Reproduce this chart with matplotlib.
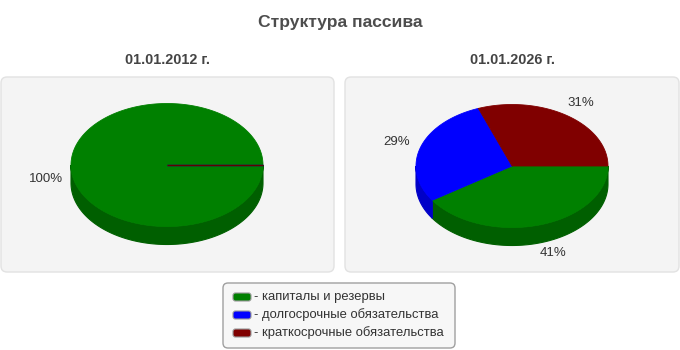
import numpy as np
import matplotlib
matplotlib.use("Agg")
import matplotlib.pyplot as plt
from matplotlib.patches import Polygon, FancyBboxPatch

# ---- data ----
title = "Структура пассива"
dates = ["01.01.2012 г.", "01.01.2026 г."]
categories = ["капиталы и резервы", "долгосрочные обязательства", "краткосрочные обязательства"]
values_2012 = [100, 0, 0]
values_2026 = [41, 29, 31]
top_colors = ["#008000", "#0000ff", "#800000"]
side_colors = ["#005f00", "#0000c8", "#600000"]

plt.rcParams['font.family'] = ['Liberation Sans', 'DejaVu Sans']

fig = plt.figure(figsize=(6.8, 3.5), dpi=100)
ax = fig.add_axes([0, 0, 1, 1])
ax.set_xlim(0, 680)
ax.set_ylim(350, 0)
ax.axis('off')

fig.text(0.5, 1 - 22 / 350, title, ha='center', va='center', fontsize=12.6,
         fontweight='bold', color='#4d4d4d')

panels = [(1, 77, 333, 195), (345, 77, 334, 195)]
centers = [(167, 165), (512, 166)]
rx, ry, depth = 96, 61.5, 18


def ell(cx, cy, t, dy=0):
    return np.column_stack([cx + rx * np.cos(t), cy + ry * np.sin(t) + dy])


for (px, py, pw, ph), (cx, cy), date, vals in zip(panels, centers, dates,
                                                 [values_2012, values_2026]):
    ax.add_patch(FancyBboxPatch((px + 3, py + 3), pw - 6, ph - 6,
                                boxstyle="round,pad=3,rounding_size=6",
                                fc="#f4f4f4", ec="#e2e2e2", lw=1))
    ax.text(cx + 0.5, 60, date, ha='center', va='center', fontsize=10.4,
            fontweight='bold', color='#444444')

    total = float(sum(vals))
    fr = np.array(vals) / total
    starts = np.concatenate([[0], np.cumsum(fr)[:-1]]) * 2 * np.pi
    ends = np.cumsum(fr) * 2 * np.pi

    # side walls (front half: 0..pi)
    for a, b, sc in zip(starts, ends, side_colors):
        lo, hi = max(a, 0), min(b, np.pi)
        if hi <= lo:
            continue
        t = np.linspace(lo, hi, 120)
        top = ell(cx, cy, t)
        bot = ell(cx, cy, t[::-1], depth)
        ax.add_patch(Polygon(np.vstack([top, bot]), closed=True, fc=sc,
                             ec=sc, lw=0.8, zorder=2))
    # top wedges
    for a, b, tc, sc, v in zip(starts, ends, top_colors, side_colors, vals):
        if v == 0:
            p = ell(cx, cy, np.array([a]))[0]
            ax.plot([cx, p[0]], [cy, p[1]], color=sc, lw=1, zorder=4,
                    solid_capstyle='butt')
            continue
        t = np.linspace(a, b, 300)
        pts = ell(cx, cy, t)
        if b - a < 2 * np.pi - 1e-9:
            pts = np.vstack([[cx, cy], pts])
        ax.add_patch(Polygon(pts, closed=True, fc=tc, ec=tc, lw=0.6, zorder=3))
    # labels
    for a, b, v in zip(starts, ends, vals):
        if v == 0:
            continue
        m = (a + b) / 2
        x = cx + (rx + 25) * np.cos(m)
        y = cy + (ry + 15.5) * np.sin(m)
        if np.sin(m) >= -0.05:
            y += depth * 0.75
            x += 6 * np.sin(m)
        ax.text(x, y, f"{v:g}%", ha='center', va='center', fontsize=9.5,
                color='#333333', zorder=5)

# legend
ax.add_patch(FancyBboxPatch((225, 285), 228, 61,
                            boxstyle="round,pad=2,rounding_size=5",
                            fc="#f7f7f7", ec="#a0a0a0", lw=1))
row_y = [297, 315, 333]
for yy, cat, c in zip(row_y, categories, top_colors):
    ax.add_patch(FancyBboxPatch((234, yy - 3), 16, 6,
                                boxstyle="round,pad=1,rounding_size=2.5",
                                fc=c, ec="#999999", lw=0.8))
    ax.text(254, yy, "- " + cat, ha='left', va='center', fontsize=9.4,
            color='#333333')

fig.savefig("out.png", dpi=100)
